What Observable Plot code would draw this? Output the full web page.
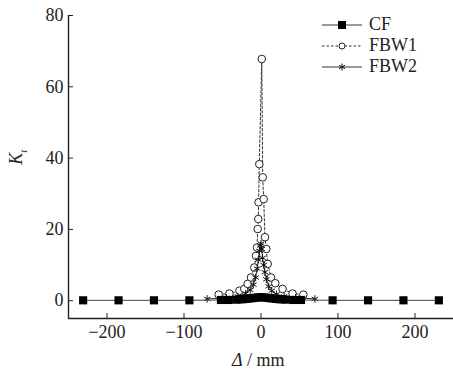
<!DOCTYPE html>
<html>
<head>
<meta charset="utf-8">
<script src="https://cdn.jsdelivr.net/npm/d3@7"></script>
<script src="https://cdn.jsdelivr.net/npm/@observablehq/plot@0.6"></script>
<style>
html,body{margin:0;padding:0;background:#fff;}
#wrap{position:relative;width:453px;height:379px;font-family:"Liberation Serif","Times New Roman",serif;color:#222;}
.lab{position:absolute;font-size:18px;white-space:nowrap;}
#legend{position:absolute;left:322px;top:14px;font-size:18px;}
#legend .row{display:flex;align-items:center;height:21px;}
#legend svg{margin-right:5px;}
</style>
</head>
<body>
<div id="wrap"></div>
<script>
const cfX = [-231,-185,-139,-93,-52,-42,-32,-28,-24,-20,-16,-12,-8,-4,0,4,8,12,16,20,24,28,32,42,52,93,139,185,231];
const cfY = [0.1,0.1,0.1,0.1,0.2,0.2,0.3,0.4,0.4,0.5,0.6,0.7,0.8,0.9,1.0,0.9,0.8,0.7,0.6,0.5,0.4,0.4,0.3,0.2,0.2,0.1,0.1,0.1,0.1];
const fbw1X = [-55,-41,-28,-21.7,-17.3,-13,-8.7,-6.5,-5.2,-4.3,-3.5,-3.2,-2.2,1,2.2,3.5,5.2,6.9,8.7,13,18.6,28,41,55];
const fbw1Y = [1.7,2.0,2.8,3.3,4.7,6.5,9.3,12.6,14.9,20.1,22.9,27.6,38.3,67.8,34.6,28.5,17.8,14.5,10.3,6.5,4.9,3.3,2.0,1.7];
const fbw2X = [-70,-45,-30,-20,-14,-10,-7,-5,-3.5,-2,-1,0,1,2,3.5,5,7,10,14,20,30,45,70];
const fbw2Y = [0.5,0.8,1.2,2,3,4.5,6.5,9,11.5,14,15.5,16,14.5,12,10,8,6,4,2.8,1.8,1.2,0.8,0.5];
const xTicks = [-200,-100,0,100,200];
const yTicks = [0,20,40,60,80];
const xDomain = [-250,250];
const yDomain = [-5,80];

const cf = cfX.map((x,i)=>({x,y:cfY[i]}));
const fbw1 = fbw1X.map((x,i)=>({x,y:fbw1Y[i]}));
const fbw2 = fbw2X.map((x,i)=>({x,y:fbw2Y[i]}));

const ink = "#222";
const chart = Plot.plot({
  width: 453, height: 379,
  marginLeft: 68, marginRight: 0, marginTop: 15, marginBottom: 61,
  style: {fontFamily: '"Liberation Serif","Times New Roman",serif', fontSize: "18px", color: ink, background: "#fff"},
  x: {domain: xDomain, ticks: xTicks},
  y: {domain: yDomain, ticks: yTicks},
  marks: [
    Plot.axisX({ticks: xTicks, tickSize: -5, tickPadding: 12, label: null, fontSize: 18, stroke: ink}),
    Plot.axisY({ticks: yTicks, tickSize: -5, tickPadding: 10, label: null, fontSize: 18, stroke: ink}),
    Plot.ruleX([xDomain[0]], {y1: yDomain[0], y2: yDomain[1], stroke: ink, strokeWidth: 1.4}),
    Plot.ruleY([yDomain[0]], {stroke: ink, strokeWidth: 1.4}),
    Plot.line(fbw1, {x:"x", y:"y", stroke: "#333", strokeWidth: 1, strokeDasharray: "2.5,2"}),
    Plot.dot(fbw1, {x:"x", y:"y", r: 3.8, stroke: "#222", strokeWidth: 1, fill: "#fff"}),
    Plot.line(fbw2, {x:"x", y:"y", stroke: "#333", strokeWidth: 1}),
    Plot.dot(fbw2, {x:"x", y:"y", symbol: "asterisk", r: 3.5, stroke: "#111", strokeWidth: 1}),
    Plot.line(cf, {x:"x", y:"y", stroke: "#444", strokeWidth: 1}),
    Plot.dot(cf, {x:"x", y:"y", symbol: "square", r: 4.6, fill: "#000", stroke: "none"})
  ]
});
const wrap = document.getElementById("wrap");
wrap.appendChild(chart);

function addLab(html, css){
  const d = document.createElement("div");
  d.className = "lab"; d.innerHTML = html; Object.assign(d.style, css); wrap.appendChild(d);
  return d;
}
addLab('<i>Δ</i> / mm', {left: "232px", top: "350px", fontSize: "18px"});
addLab('<i>K</i><sub style="font-size:11px;font-style:italic">t</sub>', {left: "10px", top: "146px", transform: "rotate(-90deg)", transformOrigin: "center"});

const series = [
  {name: "CF", dash: null, sym: "square"},
  {name: "FBW1", dash: "2.5,2", sym: "circle"},
  {name: "FBW2", dash: null, sym: "asterisk"}
];
const lg = document.createElement("div"); lg.id = "legend";
for (const s of series) {
  const row = document.createElement("div"); row.className = "row";
  let sym = "";
  if (s.sym === "square") sym = '<rect x="16" y="6" width="8" height="8" fill="#000"/>';
  if (s.sym === "circle") sym = '<circle cx="20" cy="10" r="3" fill="#fff" stroke="#222"/>';
  if (s.sym === "asterisk") sym = '<path d="M20,6.5V13.5M17,8.3L23,11.7M17,11.7L23,8.3" stroke="#111"/>';
  row.innerHTML = `<svg width="42" height="20"><line x1="0" x2="40" y1="10" y2="10" stroke="#333" ${s.dash?`stroke-dasharray="${s.dash}"`:""}/>${sym}</svg><span>${s.name}</span>`;
  lg.appendChild(row);
}
wrap.appendChild(lg);
</script>
</body>
</html>
